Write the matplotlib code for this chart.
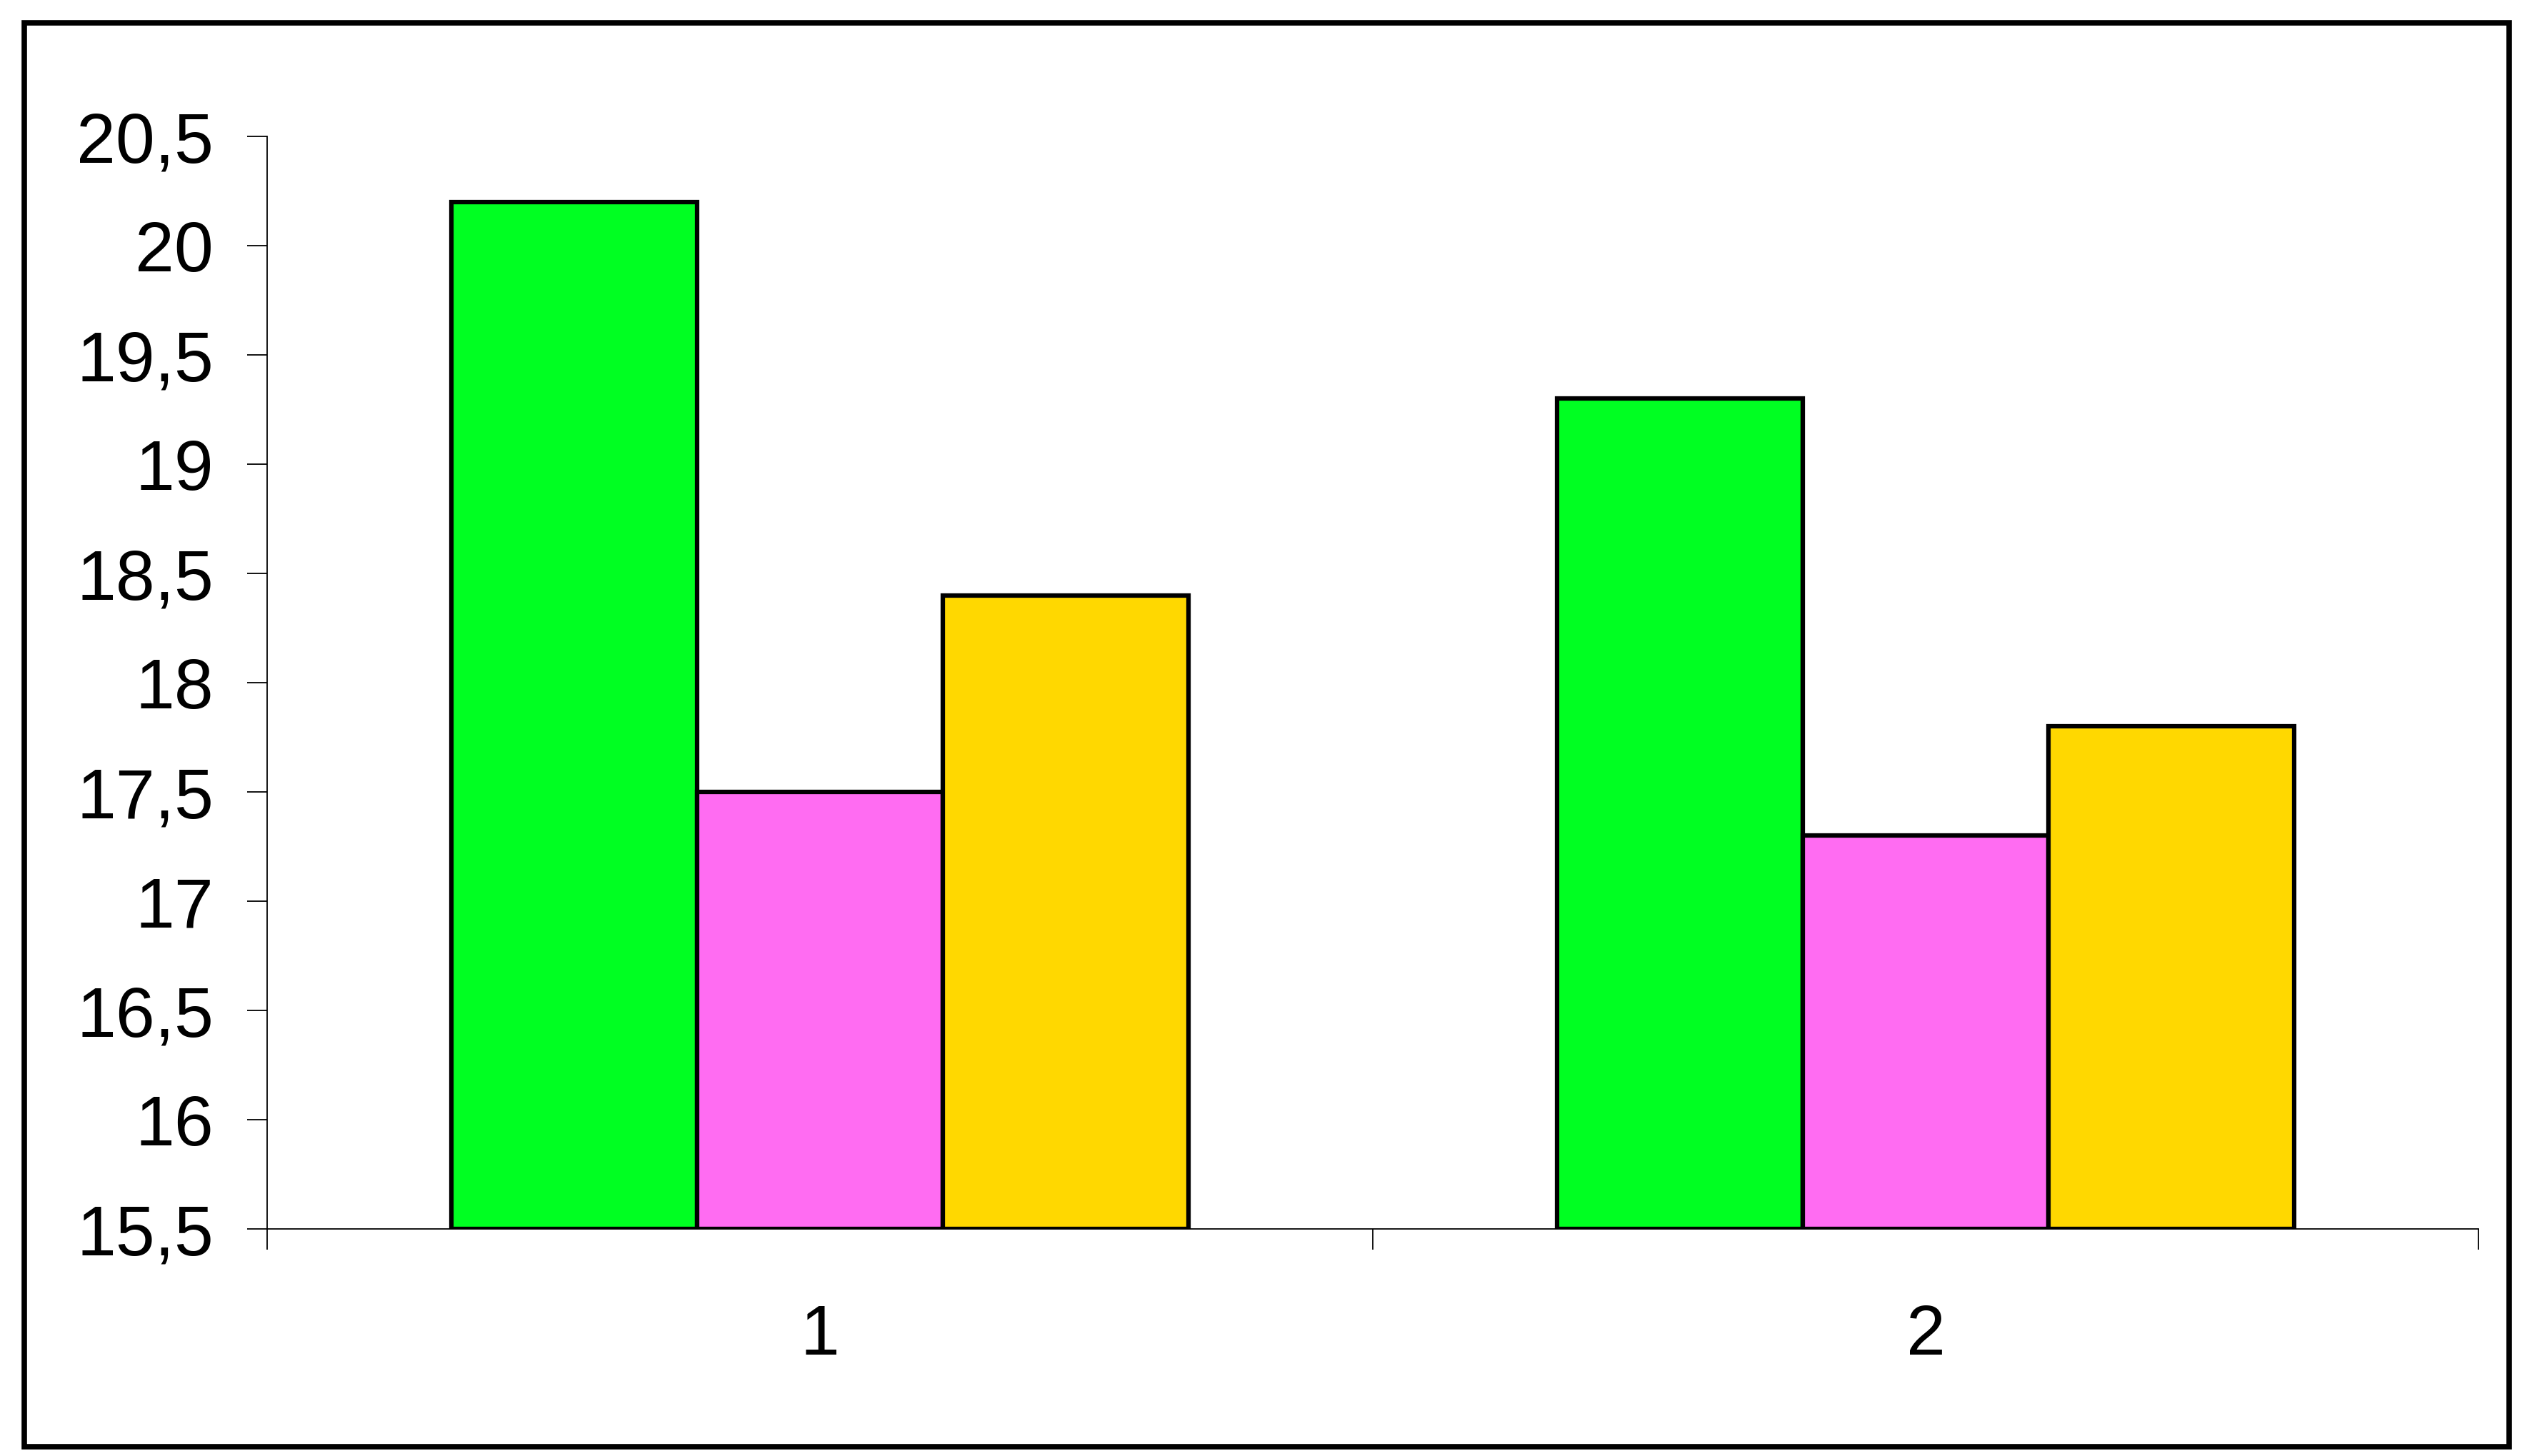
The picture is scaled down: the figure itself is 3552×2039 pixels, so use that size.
import matplotlib
matplotlib.use("Agg")
import matplotlib.pyplot as plt
from matplotlib.patches import Rectangle
import numpy as np

categories = ["1", "2"]
series_green = [20.2, 19.3]
series_pink = [17.5, 17.3]
series_yellow = [18.4, 17.8]
y_ticks = [15.5, 16, 16.5, 17, 17.5, 18, 18.5, 19, 19.5, 20, 20.5]
y_tick_labels = ["15,5", "16", "16,5", "17", "17,5", "18", "18,5", "19", "19,5", "20", "20,5"]

colors = ["#00FF22", "#FF6CF2", "#FFD800"]
base = 15.5

plt.rcParams['font.family'] = ['Liberation Sans', 'DejaVu Sans']

fig = plt.figure(figsize=(35.52, 20.40), dpi=100)
ax = fig.add_axes([0.1053, 0.1559, 0.9769 - 0.1053, 0.9059 - 0.1559])

x = np.arange(len(categories))
w = 1 / 4.5
for i, (vals, c) in enumerate(zip([series_green, series_pink, series_yellow], colors)):
    heights = [v - base for v in vals]
    ax.bar(x + (i - 1) * w, heights, width=w, bottom=base, color=c,
           edgecolor="black", linewidth=4.5, zorder=3)

ax.set_xlim(-0.5, len(categories) - 0.5)
ax.set_ylim(15.5, 20.5)
ax.set_yticks(y_ticks)
ax.set_yticklabels(y_tick_labels)
ax.set_xticks(x)
ax.set_xticklabels(categories)
ax.set_xticks([-0.5, 0.5, 1.5], minor=True)

for s in ["top", "right"]:
    ax.spines[s].set_visible(False)
for s in ["left", "bottom"]:
    ax.spines[s].set_linewidth(1.3)
    ax.spines[s].set_color("black")

ax.tick_params(axis="y", direction="out", length=20, width=1.3, pad=34, labelsize=71)
ax.tick_params(axis="x", which="major", length=0, pad=75, labelsize=71)
ax.tick_params(axis="x", which="minor", direction="out", length=21, width=1.3)

border = Rectangle((0.0096, 0.0064), 0.989 - 0.0096, 0.984 - 0.0064,
                   transform=fig.transFigure, fill=False, edgecolor="black",
                   linewidth=5.5, zorder=10)
fig.patches.append(border)

fig.savefig("out.png", dpi=100, facecolor="white")
